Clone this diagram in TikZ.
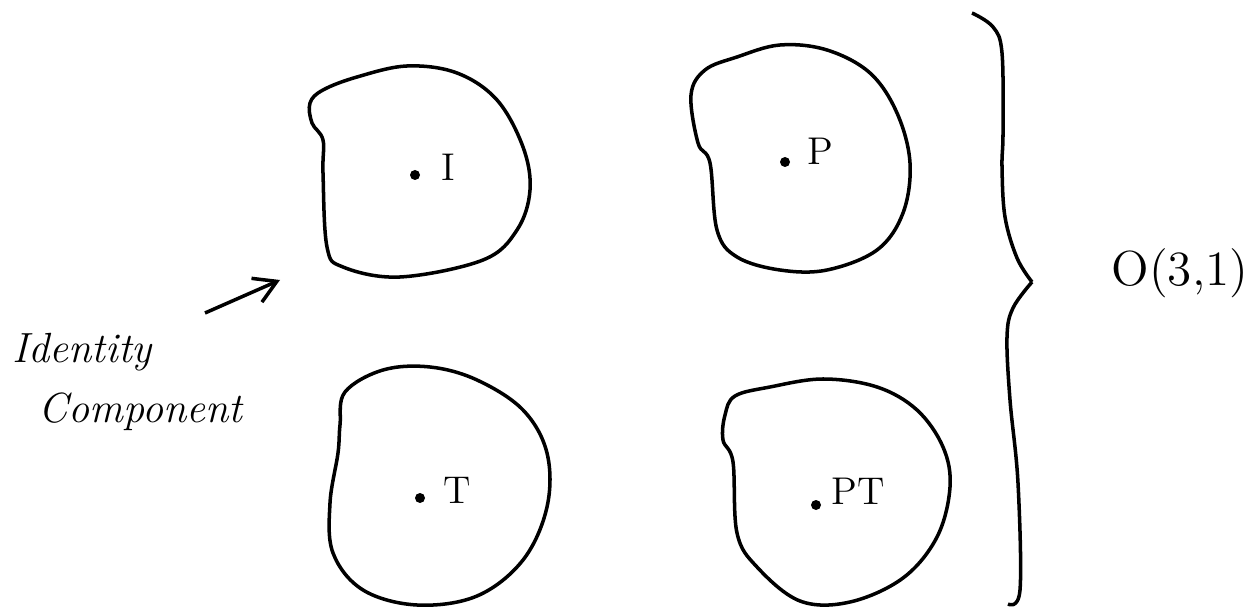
\documentclass[tikz,border=0pt]{standalone}
\usepackage{tikz}
\usetikzlibrary{positioning}
\tikzset{
    % hand drawn outlines
    blobline/.style={
        draw=black,
        line width=1pt,
        line join=round
    },
    dotpoint/.style={
        circle,
        fill=black,
        inner sep=0pt,
        minimum size=1mm
    },
    eltlabel/.style={
        inner sep=0pt,
        font=\fontsize{11}{13}\selectfont
    },
    notelabel/.style={
        inner sep=0pt,
        anchor=base west,
        font=\fontsize{12}{14}\selectfont\itshape
    },
    grouplabel/.style={
        inner sep=0pt,
        font=\fontsize{14}{16}\selectfont
    },
    pointer/.style={
        -{Straight Barb[length=2.2mm,width=2.6mm]},
        line width=1pt
    }
}
\usetikzlibrary{arrows.meta}
\begin{document}
\begin{tikzpicture}[x=0.1mm,y=-0.1mm]
    \useasboundingbox (0,0) rectangle (1249,609);

    % the four components
    \draw[blobline] plot[smooth cycle, tension=0.6] coordinates {
        (310,103) (323,90) (357,77) (407,66) (457,73) (497,100) (523,147) (530,190)
        (517,230) (483,260) (400,277) (343,267) (327,247) (323,173) (323,140) (312,123)};
    \draw[blobline] plot[smooth cycle, tension=0.6] coordinates {
        (691,95) (705,70) (737,57) (780,45) (827,50) (870,73) (897,113) (910,163)
        (903,213) (877,250) (827,270) (780,270) (737,257) (717,230) (710,163) (698,143)};
    \draw[blobline] plot[smooth cycle, tension=0.6] coordinates {
        (345,392) (383,370) (430,367) (477,380) (523,410) (547,453) (547,507) (523,560)
        (477,596) (417,605) (363,590) (333,553) (330,503) (338,453) (340,425)};
    \draw[blobline] plot[smooth cycle, tension=0.6] coordinates {
        (735,396) (770,387) (823,379) (877,387) (917,410) (943,447) (950,487) (937,537)
        (903,578) (850,602) (800,601) (757,567) (737,533) (733,462) (723,440) (725,415)};

    \node[dotpoint] (dotI) at (415,175) {};
    \node[dotpoint] (dotP) at (785,162) {};
    \node[dotpoint] (dotT) at (420,498) {};
    \node[dotpoint] (dotPT) at (816,505) {};

    \node[eltlabel] (labI) at (448,167) {I};
    \node[eltlabel] (labP) at (820,151) {P};
    \node[eltlabel] (labT) at (457,490) {T};
    \node[eltlabel] (labPT) at (858,491) {PT};

    % note with arrow
    \node[notelabel] (ident) at (12,363) {Identity};
    \node[notelabel] (comp) at (38,423) {Component};
    \coordinate (tail) at (205,313);
    \coordinate (head) at (280,280);
    \draw[pointer] (tail) -- (head);

    % brace round the group
    \coordinate (tip) at (1032,282);
    \draw[blobline] plot[smooth, tension=0.6] coordinates {
        (972,13) (993,27) (1002,53) (1003,133) (1002,167) (1005,217) (1017,258) (tip)};
    \draw[blobline] plot[smooth, tension=0.6] coordinates {
        (tip) (1013,308) (1007,337) (1010,400) (1018,483) (1020,590) (1008,604)};
    \node[grouplabel] (group) at (1180,273) {O(3,1)};
\end{tikzpicture}
\end{document}
